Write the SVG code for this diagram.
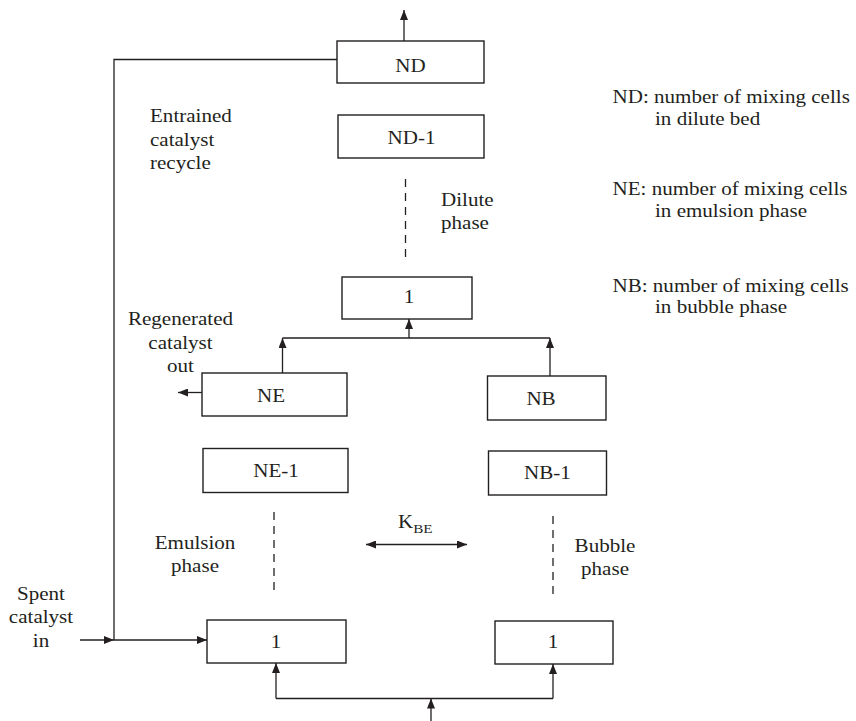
<svg xmlns="http://www.w3.org/2000/svg" width="856" height="721" viewBox="0 0 856 721">
<style>
text{font-family:"Liberation Serif","Times New Roman",serif;font-size:18px;fill:#231f20}
.m{text-anchor:middle}
.box{fill:#fff;stroke:#231f20;stroke-width:1.4}
.ln{fill:none;stroke:#231f20;stroke-width:1.3}
.ar{fill:none;stroke:#231f20;stroke-width:1.3;marker-end:url(#ah)}
.da{fill:none;stroke:#231f20;stroke-width:1.3;stroke-dasharray:8 6}
</style>
<defs>
<marker id="ah" viewBox="0 0 10 8" refX="10" refY="4" markerWidth="10" markerHeight="8" markerUnits="userSpaceOnUse" orient="auto-start-reverse">
<path d="M0,0 L10,4 L0,8 z" fill="#231f20"/>
</marker>
</defs>
<rect width="856" height="721" fill="#fff"/>
<g id="connectors">
<path class="ar" d="M404,41 V10"/>
<path class="ln" d="M337,59.5 H114 V640"/>
<path class="ar" d="M80,640 H114"/>
<path class="ar" d="M114,640 H207"/>
<path class="da" d="M405.5,179 V260"/>
<path class="ar" d="M409,338 V319"/>
<path class="ln" d="M282.5,338 H550"/>
<path class="ar" d="M282.5,373 V338"/>
<path class="ar" d="M550,376 V338"/>
<path class="ar" d="M202,392.5 H178"/>
<path class="da" d="M274,512 V596"/>
<path class="da" d="M553,516 V599"/>
<path class="ar" d="M366,544.5 H467" style="marker-start:url(#ah)"/>
<path class="ar" d="M431,721 V698.5"/>
<path class="ln" d="M276,698.5 H553"/>
<path class="ar" d="M276,698.5 V663"/>
<path class="ar" d="M553,698.5 V664"/>
</g>
<g id="node-ND"><rect class="box" x="337" y="41" width="147" height="42"/><text class="m" transform="translate(410.5 71.5) scale(1.17 1)">ND</text></g>
<g id="node-ND-1"><rect class="box" x="338" y="115" width="146" height="43"/><text class="m" transform="translate(411.5 144) scale(1.17 1)">ND-1</text></g>
<g id="node-D1"><rect class="box" x="342" y="277" width="130" height="42"/><text class="m" transform="translate(409 303) scale(1.17 1)">1</text></g>
<g id="node-NE"><rect class="box" x="202" y="373" width="145" height="43"/><text class="m" transform="translate(271 401.5) scale(1.17 1)">NE</text></g>
<g id="node-NB"><rect class="box" x="487.5" y="376" width="118.5" height="44"/><text class="m" transform="translate(541 405) scale(1.17 1)">NB</text></g>
<g id="node-NE-1"><rect class="box" x="203" y="448.5" width="145" height="44"/><text class="m" transform="translate(276 477) scale(1.17 1)">NE-1</text></g>
<g id="node-NB-1"><rect class="box" x="488.5" y="451" width="118" height="44"/><text class="m" transform="translate(547.5 479) scale(1.17 1)">NB-1</text></g>
<g id="node-E1"><rect class="box" x="207" y="620" width="139" height="43"/><text class="m" transform="translate(276 648) scale(1.17 1)">1</text></g>
<g id="node-B1"><rect class="box" x="495" y="621" width="118" height="43"/><text class="m" transform="translate(553 648) scale(1.17 1)">1</text></g>
<g id="labels">
<text transform="translate(150 122) scale(1.17 1)">Entrained</text>
<text transform="translate(150 145.5) scale(1.17 1)">catalyst</text>
<text transform="translate(150 168.5) scale(1.17 1)">recycle</text>
<text transform="translate(441 206) scale(1.17 1)">Dilute</text>
<text transform="translate(441 229) scale(1.17 1)">phase</text>
<text class="m" transform="translate(180.5 325) scale(1.17 1)">Regenerated</text>
<text class="m" transform="translate(180.5 348.5) scale(1.17 1)">catalyst</text>
<text class="m" transform="translate(180.5 371.5) scale(1.17 1)">out</text>
<text transform="translate(398 528) scale(1.17 1)">K<tspan dy="5" style="font-size:13px">BE</tspan></text>
<text class="m" transform="translate(195 548.5) scale(1.17 1)">Emulsion</text>
<text class="m" transform="translate(195 571.5) scale(1.17 1)">phase</text>
<text class="m" transform="translate(605 551.5) scale(1.17 1)">Bubble</text>
<text class="m" transform="translate(605 575) scale(1.17 1)">phase</text>
<text class="m" transform="translate(41 600) scale(1.17 1)">Spent</text>
<text class="m" transform="translate(41 623) scale(1.17 1)">catalyst</text>
<text class="m" transform="translate(41 647) scale(1.17 1)">in</text>
<text transform="translate(612.5 103.3) scale(1.17 1)">ND: number of mixing cells</text>
<text transform="translate(655 125) scale(1.17 1)">in dilute bed</text>
<text transform="translate(612.5 195) scale(1.17 1)">NE: number of mixing cells</text>
<text transform="translate(655 216.7) scale(1.17 1)">in emulsion phase</text>
<text transform="translate(612.5 291.7) scale(1.17 1)">NB: number of mixing cells</text>
<text transform="translate(655 313) scale(1.17 1)">in bubble phase</text>
</g>
</svg>
